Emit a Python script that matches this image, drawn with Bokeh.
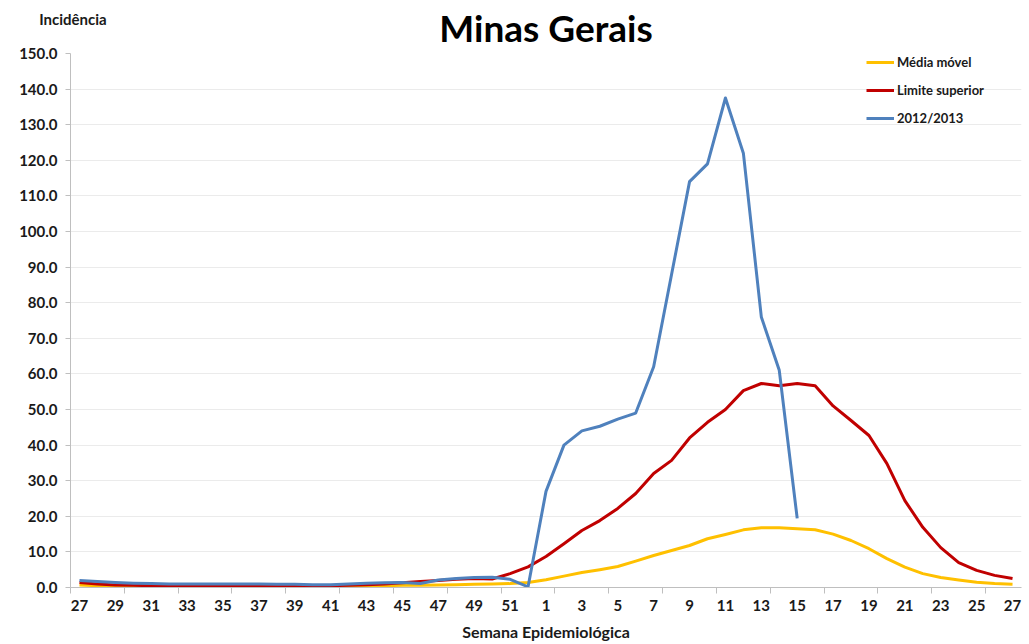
from bokeh.plotting import figure
from bokeh.models import FixedTicker, Range1d, LinearAxis, Legend, LegendItem
from bokeh.embed import file_html
from bokeh.resources import INLINE

# Epidemiological weeks 27..52 then 1..27
weeks = list(range(27, 53)) + list(range(1, 28))

media_movel = [0.7, 0.5, 0.4, 0.3, 0.3, 0.3, 0.3, 0.3, 0.3, 0.3, 0.3, 0.3, 0.3, 0.3, 0.3,
               0.4, 0.4, 0.5, 0.6, 0.6, 0.7, 0.8, 0.9, 1.0, 1.1, 1.4,
               2.2, 3.2, 4.2, 5.0, 5.9, 7.4, 9.0, 10.4, 11.8, 13.7, 14.9, 16.2, 16.8, 16.8,
               16.5, 16.2, 15.0, 13.2, 10.9, 8.1, 5.7, 3.9, 2.8, 2.1, 1.5, 1.1, 0.9]

limite_superior = [1.4, 1.0, 0.7, 0.6, 0.5, 0.5, 0.4, 0.4, 0.4, 0.4, 0.4, 0.4, 0.4, 0.4, 0.5,
                   0.6, 0.8, 1.0, 1.3, 1.7, 2.0, 2.3, 2.5, 2.4, 3.9, 5.8,
                   8.7, 12.3, 16.0, 18.8, 22.2, 26.4, 32.0, 35.7, 42.0, 46.4, 50.0, 55.3, 57.3, 56.7,
                   57.3, 56.7, 51.0, 46.9, 42.7, 34.8, 24.4, 16.9, 11.2, 7.0, 4.8, 3.4, 2.5]

s2012_2013 = [2.0, 1.7, 1.4, 1.2, 1.1, 1.0, 1.0, 1.0, 1.0, 1.0,
              1.0, 0.9, 0.9, 0.8, 0.8, 1.0, 1.2, 1.3, 1.4, 1.1,
              2.1, 2.5, 2.8, 2.9, 2.3, 0.2, 27.0, 40.0, 44.0, 45.3,
              47.3, 49.0, 62.0, 88.0, 114.0, 119.0, 137.5, 122.0, 76.0, 61.0, 19.4]

y_ticks = [0, 10, 20, 30, 40, 50, 60, 70, 80, 90, 100, 110, 120, 130, 140, 150]

FONT = "Lato"
n = len(weeks)
xs = list(range(n))

p = figure(width=1029, height=644, output_backend="svg", toolbar_location=None,
           x_range=Range1d(-0.5, n - 0.5), y_range=Range1d(0, 150),
           min_border_left=70, min_border_right=8, min_border_top=53, min_border_bottom=57)
p.outline_line_color = None
p.background_fill_color = "white"
p.border_fill_color = "white"

r_y = p.line(xs, media_movel, line_color="#FFC000", line_width=3, line_join="round")
r_r = p.line(xs, limite_superior, line_color="#C00000", line_width=3, line_join="round")
r_b = p.line(xs[:len(s2012_2013)], s2012_2013, line_color="#4F81BD", line_width=3,
             line_join="round")

# x axis
lab_idx = [i for i in range(n) if i % 2 == 0]
p.xaxis.ticker = FixedTicker(ticks=lab_idx, minor_ticks=[i - 0.5 for i in range(0, n + 1, 3)])
p.xaxis.major_label_overrides = {i: str(weeks[i]) for i in lab_idx}
p.xaxis.major_tick_line_color = None
p.xaxis.minor_tick_line_color = "#BFBFBF"
p.xaxis.minor_tick_out = 6
p.xaxis.minor_tick_in = 0
p.xaxis.axis_line_color = "#BFBFBF"
p.xaxis.major_label_text_font = FONT
p.xaxis.major_label_text_font_style = "bold"
p.xaxis.major_label_text_font_size = "15px"
p.xaxis.major_label_text_color = "#1a1a1a"
p.xaxis.major_label_standoff = 6
p.xaxis.axis_label = "Semana Epidemiológica"
p.xaxis.axis_label_text_font = FONT
p.xaxis.axis_label_text_font_style = "bold"
p.xaxis.axis_label_text_font_size = "16px"
p.xaxis.axis_label_text_color = "#1a1a1a"
p.xaxis.axis_label_standoff = 8

# y axis
p.yaxis.ticker = FixedTicker(ticks=y_ticks)
p.yaxis.major_label_overrides = {t: f"{t:.1f}" for t in y_ticks}
p.yaxis.axis_line_color = "#BFBFBF"
p.yaxis.major_tick_line_color = "#BFBFBF"
p.yaxis.major_tick_out = 5
p.yaxis.major_tick_in = 0
p.yaxis.minor_tick_line_color = None
p.yaxis.major_label_text_font = FONT
p.yaxis.major_label_text_font_style = "bold"
p.yaxis.major_label_text_font_size = "15px"
p.yaxis.major_label_text_color = "#1a1a1a"
p.yaxis.major_label_standoff = 8

p.xgrid.grid_line_color = None
p.ygrid.grid_line_color = "#EBEBEB"
p.ygrid.grid_line_width = 1

# Header row: "Incidência" caption (top-left) and the chart title, on a bare axis above
cap_pos = -0.36
header = LinearAxis(ticker=FixedTicker(ticks=[cap_pos]),
                    major_label_overrides={cap_pos: "Incidência"},
                    axis_label="Minas Gerais")
header.axis_line_color = None
header.major_tick_line_color = None
header.minor_tick_line_color = None
header.major_tick_out = 0
header.major_tick_in = 0
header.major_label_standoff = 26
header.major_label_text_font = FONT
header.major_label_text_font_style = "bold"
header.major_label_text_font_size = "15px"
header.major_label_text_color = "#1a1a1a"
header.axis_label_standoff = -43
header.axis_label_text_font = FONT
header.axis_label_text_font_style = "bold"
header.axis_label_text_font_size = "37px"
header.axis_label_text_color = "black"
p.add_layout(header, "above")

legend = Legend(items=[LegendItem(label="Média móvel", renderers=[r_y]),
                       LegendItem(label="Limite superior", renderers=[r_r]),
                       LegendItem(label="2012/2013", renderers=[r_b])],
                location=(796, 459), orientation="vertical")
legend.background_fill_alpha = 0
legend.border_line_color = None
legend.padding = 0
legend.margin = 0
legend.spacing = 8
legend.glyph_width = 28
legend.glyph_height = 20
legend.label_height = 20
legend.label_standoff = 3
legend.label_text_font = FONT
legend.label_text_font_style = "bold"
legend.label_text_font_size = "13px"
legend.label_text_color = "#1a1a1a"
p.add_layout(legend)

open("out.html", "w").write(file_html(p, INLINE))
